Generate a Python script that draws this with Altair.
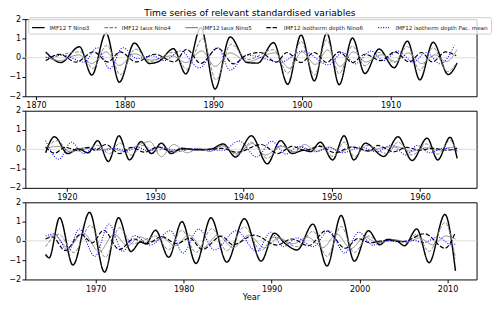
import altair as alt
import pandas as pd

SERIES = ["IMF12 T Nino3", "IMF12 taux Nino4", "IMF12 taux Nino5",
          "IMF12 isotherm depth Nino6", "IMF12 isotherm depth Pac. mean"]
COLORS = ["black", "#808080", "#8a8a8a", "black", "blue"]
DASHES = [[1, 0], [3.7, 1.6], [1, 0], [4.5, 2], [1, 1.6]]
WIDTHS = [1.5, 1.0, 1.0, 1.2, 1.1]

TITLE = "Time series of relevant standardised variables"
Y_TICKS = [-2, -1, 0, 1, 2]
P1_TICKS = [1870, 1880, 1890, 1900, 1910]
P2_TICKS = [1920, 1930, 1940, 1950, 1960]
P3_TICKS = [1970, 1980, 1990, 2000, 2010]
P1_DOMAIN = [1868.8, 1919.7]
P2_DOMAIN = [1915.3, 1966.4]
P3_DOMAIN = [1962.0, 2013.3]

# ---------------- Panel 1 ----------------
P1_T_YR = [1871.1, 1872.8, 1874.9, 1876.3, 1877.9, 1879.4, 1881.1, 1882.8, 1883.9, 1885.5, 1886.9,
           1888.6, 1890.2, 1891.9, 1893.8, 1895.0, 1896.8, 1898.4, 1899.9, 1901.4, 1902.8, 1904.2,
           1905.7, 1907.1, 1908.7, 1910.4, 1911.9, 1913.3, 1914.8, 1916.5, 1917.5]
P1_T_VAL = [0.30, -0.25, 0.57, -0.90, 1.28, -1.27, 0.76, -0.30, -0.18, 0.47, -0.84,
            1.56, -1.62, 1.08, -0.25, -0.28, 0.78, -1.38, 1.18, -1.20, 1.28, -1.40,
            1.02, -0.82, 0.45, -0.52, 0.86, -1.15, 0.80, -0.87, -0.28]

P1_N4_YR = [1871.1, 1872.5, 1875.0, 1876.4, 1878.0, 1879.5, 1881.2, 1882.9, 1885.5, 1887.0, 1888.8,
            1890.3, 1892.0, 1893.9, 1896.8, 1898.4, 1899.9, 1901.4, 1902.8, 1904.2, 1905.7, 1907.1,
            1908.7, 1910.4, 1911.9, 1913.3, 1914.8, 1916.4, 1917.5]
P1_N4_VAL = [-0.15, 0.10, 0.30, -0.55, 0.65, -0.88, 0.45, -0.20, 0.28, -0.60, 1.00,
             -1.15, 0.70, -0.10, 0.42, -0.80, 0.85, -0.90, 0.92, -0.82, 0.60, -0.42,
             0.28, -0.25, 0.58, -0.65, 0.52, -0.72, -0.25]

P1_N5_YR = [1871.1, 1872.7, 1874.8, 1876.3, 1877.9, 1879.4, 1881.1, 1883.0, 1885.4, 1886.9, 1888.7,
            1890.2, 1891.9, 1893.9, 1896.9, 1898.6, 1900.0, 1901.5, 1902.9, 1904.3, 1905.8, 1907.2,
            1909.0, 1910.6, 1912.0, 1913.5, 1915.0, 1916.3, 1917.5]
P1_N5_VAL = [0.05, -0.15, 0.15, -0.30, 0.30, -0.40, 0.20, -0.12, 0.10, -0.25, 0.35,
             -0.45, 0.25, -0.20, 0.25, -0.55, 0.30, -0.35, 0.40, -0.45, 0.30, -0.22,
             0.15, -0.20, 0.25, -0.30, 0.15, -0.20, 0.43]

P1_N6_YR = [1871.1, 1872.7, 1874.5, 1876.5, 1878.1, 1879.5, 1881.3, 1883.4, 1885.6, 1887.0, 1888.6,
            1890.5, 1892.3, 1893.7, 1895.3, 1897.1, 1898.3, 1899.9, 1901.4, 1902.8, 1904.2, 1905.7,
            1907.1, 1908.9, 1910.5, 1912.1, 1913.5, 1914.7, 1916.2, 1917.4]
P1_N6_VAL = [-0.15, 0.18, -0.23, 0.30, -0.22, 0.30, -0.22, 0.18, -0.22, 0.43, -0.30,
             0.50, -0.32, 0.12, 0.27, -0.23, 0.27, -0.25, 0.27, -0.25, 0.30, -0.25,
             0.18, -0.15, 0.30, -0.22, 0.27, -0.22, 0.30, 0.10]

P1_PAC_YR = [1871.1, 1873.1, 1875.4, 1876.9, 1878.3, 1879.8, 1881.4, 1883.1, 1884.5, 1886.3, 1888.4,
             1890.5, 1891.9, 1893.7, 1894.5, 1897.6, 1900.1, 1903.0, 1904.6, 1906.0, 1907.8, 1909.2,
             1910.8, 1912.6, 1914.0, 1915.6, 1917.2]
P1_PAC_VAL = [0.00, 0.13, -0.23, 0.52, -0.57, 0.52, -0.05, 0.10, -0.15, 0.35, -0.53,
              0.52, -0.65, 0.13, 0.10, -0.23, 0.35, -0.37, 0.27, -0.32, 0.35, -0.15,
              0.35, -0.23, 0.27, -0.32, 0.63]

# ---------------- Panel 2 ----------------
P2_T_YR = [1917.6, 1918.6, 1920.1, 1921.3, 1922.4, 1923.5, 1924.7, 1925.9, 1927.1, 1928.4, 1929.6,
           1930.7, 1931.8, 1933.0, 1934.5, 1936.4, 1937.7, 1939.1, 1940.9, 1942.7, 1944.2, 1945.5,
           1946.8, 1947.6, 1948.7, 1950.1, 1951.4, 1952.5, 1953.8, 1955.9, 1957.5, 1959.1, 1960.8,
           1962.0, 1963.4, 1964.2]
P2_T_VAL = [-0.18, 0.65, -0.22, 0.03, -0.18, 0.45, -0.63, 0.70, -0.55, 0.40, -0.22,
            0.32, -0.22, 0.05, -0.03, 0.02, 0.28, -0.40, 0.70, -0.75, 0.45, -0.22,
            -0.05, -0.12, 0.37, -0.55, 0.70, -0.55, 0.32, -0.37, 0.65, -0.58, 0.58,
            -0.55, 0.62, -0.47]

P2_N4_YR = [1917.8, 1918.9, 1920.3, 1922.0, 1923.5, 1924.8, 1926.0, 1927.3, 1928.6, 1930.0, 1931.1,
            1932.0, 1934.5, 1936.5, 1937.7, 1939.3, 1940.9, 1942.7, 1944.3, 1945.7, 1946.6, 1947.6,
            1948.7, 1950.2, 1951.4, 1952.6, 1953.9, 1956.3, 1957.5, 1959.1, 1960.7, 1962.0, 1963.4,
            1964.2]
P2_N4_VAL = [0.15, 0.45, -0.13, 0.00, 0.20, -0.22, 0.32, -0.30, 0.20, -0.10, 0.05,
             -0.15, 0.02, -0.02, 0.20, -0.30, 0.37, -0.47, 0.20, -0.13, 0.15, -0.05,
             0.20, -0.38, 0.37, -0.38, 0.20, -0.22, 0.37, -0.30, 0.28, -0.25, 0.45,
             -0.13]

P2_N5_YR = [1917.6, 1919.0, 1920.3, 1922.0, 1923.5, 1925.0, 1926.3, 1927.5, 1929.4, 1930.7, 1932.1,
            1933.6, 1935.0, 1936.2, 1937.5, 1939.3, 1941.0, 1942.5, 1944.3, 1945.8, 1946.9, 1948.3,
            1949.7, 1951.0, 1952.3, 1954.0, 1956.0, 1957.5, 1959.0, 1960.8, 1962.0, 1963.5, 1964.2]
P2_N5_VAL = [0.05, 0.15, -0.10, 0.08, -0.05, 0.05, -0.10, 0.10, 0.40, -0.38, 0.25,
             -0.18, 0.05, -0.12, 0.18, -0.22, 0.30, -0.30, 0.15, -0.15, 0.25, -0.10,
             0.12, -0.15, 0.12, -0.10, 0.10, 0.12, -0.10, 0.08, -0.05, 0.10, 0.05]

P2_N6_YR = [1917.6, 1918.6, 1919.8, 1921.2, 1922.5, 1923.2, 1924.4, 1926.0, 1927.3, 1928.8, 1930.3,
            1931.8, 1933.5, 1935.5, 1937.5, 1939.3, 1942.0, 1943.9, 1945.5, 1947.0, 1948.6, 1950.4,
            1952.2, 1954.3, 1955.2, 1957.0, 1958.5, 1960.0, 1961.5, 1963.0, 1964.2]
P2_N6_VAL = [0.12, -0.20, 0.10, -0.05, 0.10, -0.05, 0.25, -0.22, 0.10, -0.15, 0.12,
             -0.10, 0.03, -0.03, 0.05, -0.15, 0.25, -0.22, 0.15, -0.05, 0.15, -0.18,
             0.12, -0.08, 0.20, -0.13, 0.10, -0.05, 0.05, -0.05, 0.05]

P2_PAC_YR = [1917.6, 1919.1, 1920.5, 1921.9, 1923.0, 1924.3, 1925.5, 1926.8, 1928.0, 1929.2, 1930.5,
             1932.0, 1934.0, 1936.0, 1937.7, 1939.5, 1941.5, 1943.2, 1944.8, 1946.2, 1948.0, 1949.8,
             1951.2, 1953.4, 1955.0, 1956.8, 1958.4, 1959.7, 1961.1, 1962.6, 1964.2]
P2_PAC_VAL = [0.45, -0.52, 0.37, -0.22, 0.05, -0.05, 0.05, -0.08, 0.12, -0.10, 0.12,
              -0.03, 0.02, -0.03, -0.05, 0.43, -0.40, 0.42, -0.25, 0.15, -0.13, 0.08,
              -0.18, 0.12, -0.13, 0.23, -0.30, 0.20, -0.18, 0.05, -0.08]

# ---------------- Panel 3 ----------------
P3_T_YR = [1964.3, 1964.7, 1965.9, 1967.4, 1969.3, 1971.0, 1972.6, 1974.0, 1975.1, 1975.7, 1976.8,
           1978.3, 1979.8, 1981.4, 1983.1, 1984.9, 1986.9, 1988.8, 1990.3, 1991.5, 1992.9, 1994.7,
           1996.3, 1997.9, 1999.4, 2001.0, 2002.3, 2003.2, 2004.3, 2005.1, 2006.5, 2007.9, 2009.7,
           2010.9]
P3_T_VAL = [-0.70, -0.88, 1.20, -1.25, 1.48, -1.62, 1.20, -0.55, -0.05, -0.15, 0.55,
            -0.85, 1.00, -1.17, 1.20, -1.10, 1.15, -1.05, 0.40, -0.12, -0.47, 0.87,
            -1.30, 1.32, -1.05, 0.53, -0.20, 0.08, -0.02, -0.25, 0.62, -1.13, 1.37,
            -1.55]

P3_N4_YR = [1964.3, 1965.8, 1967.5, 1969.4, 1971.1, 1972.7, 1974.2, 1975.5, 1976.8, 1978.3, 1979.8,
            1981.4, 1983.2, 1984.9, 1986.9, 1988.8, 1990.3, 1992.9, 1994.7, 1996.3, 1997.9, 1999.4,
            2001.0, 2002.3, 2004.0, 2005.2, 2006.5, 2007.9, 2009.7, 2010.9]
P3_N4_VAL = [-0.30, 0.35, -0.60, 0.80, -0.85, 0.68, -0.15, 0.05, 0.25, -0.45, 0.55,
             -0.60, 0.63, -0.50, 0.72, -0.50, 0.20, -0.30, 0.50, -0.80, 0.75, -0.60,
             0.25, -0.05, 0.05, -0.10, 0.35, -0.55, 0.95, -0.90]

P3_N5_YR = [1964.3, 1965.3, 1966.8, 1968.6, 1970.4, 1972.1, 1973.6, 1975.0, 1976.5, 1977.6, 1979.0,
            1980.6, 1982.2, 1983.9, 1985.6, 1987.4, 1989.2, 1990.8, 1992.4, 1994.1, 1995.8, 1997.4,
            1999.0, 2000.6, 2002.0, 2004.0, 2005.5, 2006.8, 2008.3, 2009.8, 2010.9]
P3_N5_VAL = [0.10, 0.30, -0.35, 0.40, -0.55, 0.35, -0.25, 0.20, -0.05, 0.15, -0.25,
             0.30, -0.35, 0.30, -0.35, 0.30, -0.35, 0.15, -0.15, 0.20, -0.35, 0.35,
             -0.40, 0.20, -0.10, 0.05, -0.05, 0.15, -0.20, 0.25, 0.10]

P3_N6_YR = [1964.3, 1965.1, 1966.5, 1968.3, 1969.6, 1970.9, 1972.7, 1974.3, 1975.8, 1977.5, 1979.2,
            1980.7, 1982.1, 1984.3, 1985.6, 1988.0, 1990.6, 1992.3, 1994.2, 1996.2, 1998.4, 1999.8,
            2001.2, 2003.0, 2005.0, 2007.4, 2009.7, 2010.9]
P3_N6_VAL = [0.10, 0.20, -0.50, 0.35, -0.10, 0.55, -0.45, 0.10, -0.15, 0.22, -0.15,
             0.15, -0.45, 0.25, -0.20, 0.30, -0.22, 0.10, -0.25, 0.53, -0.38, 0.12,
             -0.10, 0.03, -0.03, 0.37, -0.38, 0.45]

P3_PAC_YR = [1964.3, 1965.3, 1966.9, 1968.1, 1969.9, 1971.5, 1973.1, 1974.4, 1976.2, 1978.5, 1979.9,
             1981.7, 1983.5, 1986.0, 1988.3, 1989.9, 1991.3, 1992.9, 1994.7, 1996.5, 1998.3, 1999.9,
             2001.5, 2003.0, 2004.5, 2006.0, 2007.3, 2008.9, 2010.5, 2010.9]
P3_PAC_VAL = [0.25, 0.37, -0.55, 0.62, -0.80, 0.87, -0.55, 0.28, -0.22, 0.53, -0.63,
              0.62, -0.47, 0.53, -0.55, 0.45, -0.30, 0.15, -0.30, 0.53, -0.63, 0.45,
              -0.22, 0.02, -0.05, 0.03, -0.08, 0.20, -0.22, -0.15]

PANELS = [
    (P1_DOMAIN, P1_TICKS, [(P1_T_YR, P1_T_VAL), (P1_N4_YR, P1_N4_VAL), (P1_N5_YR, P1_N5_VAL),
                           (P1_N6_YR, P1_N6_VAL), (P1_PAC_YR, P1_PAC_VAL)]),
    (P2_DOMAIN, P2_TICKS, [(P2_T_YR, P2_T_VAL), (P2_N4_YR, P2_N4_VAL), (P2_N5_YR, P2_N5_VAL),
                           (P2_N6_YR, P2_N6_VAL), (P2_PAC_YR, P2_PAC_VAL)]),
    (P3_DOMAIN, P3_TICKS, [(P3_T_YR, P3_T_VAL), (P3_N4_YR, P3_N4_VAL), (P3_N5_YR, P3_N5_VAL),
                           (P3_N6_YR, P3_N6_VAL), (P3_PAC_YR, P3_PAC_VAL)]),
]

W, H = 468, 80

color_scale = alt.Scale(domain=SERIES, range=COLORS)
dash_scale = alt.Scale(domain=SERIES, range=DASHES)
legend = alt.Legend(
    orient="none", legendX=3, legendY=-2, direction="horizontal", columns=5,
    title=None, symbolType="stroke", symbolSize=170, symbolStrokeWidth=1.3,
    labelFont="DejaVu Sans", labelFontSize=5.8, labelColor="#222", labelOffset=4,
    columnPadding=12, padding=3, strokeColor="#cccccc", fillColor="rgba(255,255,255,0.8)",
    cornerRadius=2,
)

charts = []
for pi, (domain, ticks, series_data) in enumerate(PANELS):
    last = pi == len(PANELS) - 1
    rows = []
    for name, (yrs, vals) in zip(SERIES, series_data):
        for yr, v in zip(yrs, vals):
            rows.append({"series": name, "year": yr, "value": v})
    df = pd.DataFrame(rows)
    xenc = alt.X("year:Q", scale=alt.Scale(domain=domain, nice=False, zero=False),
                 axis=alt.Axis(values=ticks, format="d", title="Year" if last else None))
    yscale = alt.Scale(domain=[-2, 2], nice=False)
    yaxis = alt.Axis(values=Y_TICKS, title=None)
    zero = alt.Chart(pd.DataFrame({"value": [0]})).mark_rule(
        color="#dcdcdc", strokeWidth=1).encode(y=alt.Y("value:Q", scale=yscale, axis=yaxis))
    layers = [zero]
    for si, name in enumerate(SERIES):
        layers.append(
            alt.Chart(df).transform_filter(alt.datum.series == name)
            .mark_line(interpolate="monotone", strokeWidth=WIDTHS[si], clip=True)
            .encode(
                x=xenc,
                y=alt.Y("value:Q", scale=yscale, axis=yaxis),
                color=alt.Color("series:N", scale=color_scale, legend=legend),
                strokeDash=alt.StrokeDash("series:N", scale=dash_scale, legend=legend),
            )
        )
    charts.append(alt.layer(*layers).properties(width=W, height=H))

chart = alt.vconcat(*charts, spacing=15, bounds="flush").properties(
    title=alt.TitleParams(TITLE, fontSize=9.5, fontWeight="normal", font="DejaVu Sans",
                          anchor="middle", offset=-4, color="black"),
    padding={"left": 0, "top": -5, "right": 0, "bottom": 0},
).configure_view(stroke="black", strokeWidth=1).configure_axis(
    labelFont="DejaVu Sans", labelFontSize=8.3, labelColor="black", tickColor="black",
    tickSize=3.5, labelPadding=1.5, domain=False, grid=False,
    titleFont="DejaVu Sans", titleFontSize=8.5, titleFontWeight="normal", titleColor="black",
    titlePadding=0,
)

chart.save("out.html", embed_options={"renderer": "svg", "actions": False})
